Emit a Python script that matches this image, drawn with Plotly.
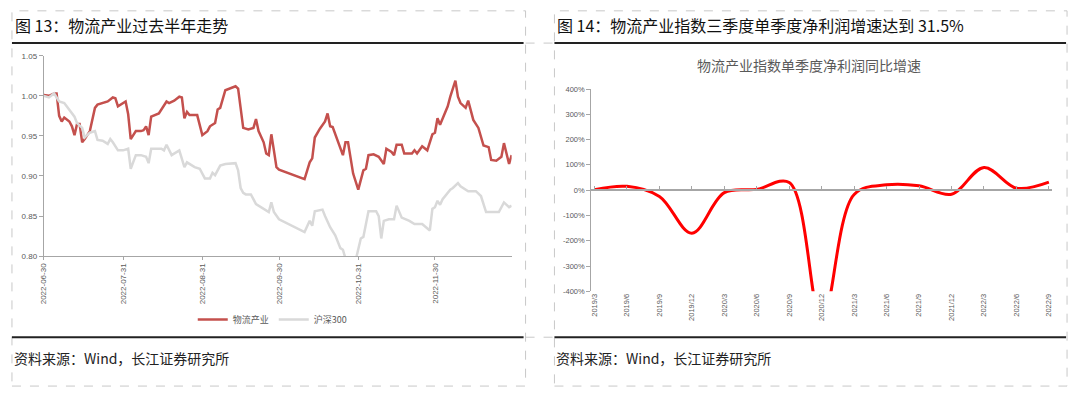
import plotly.graph_objects as go

W, H = 1080, 394

# ---------------- Left chart data (图13) ----------------
logistics_dates = [
    "2022-06-30", "2022-07-02", "2022-07-04", "2022-07-05", "2022-07-06", "2022-07-07", "2022-07-08",
    "2022-07-10", "2022-07-11", "2022-07-12", "2022-07-13", "2022-07-14", "2022-07-15", "2022-07-16",
    "2022-07-18", "2022-07-20", "2022-07-21", "2022-07-23", "2022-07-25", "2022-07-27", "2022-07-28",
    "2022-07-29", "2022-07-31", "2022-08-01", "2022-08-02", "2022-08-03", "2022-08-05", "2022-08-07",
    "2022-08-08", "2022-08-09", "2022-08-10", "2022-08-11", "2022-08-14", "2022-08-17", "2022-08-18",
    "2022-08-20", "2022-08-22", "2022-08-23", "2022-08-24", "2022-08-25", "2022-08-26", "2022-08-27",
    "2022-08-29", "2022-08-31", "2022-09-02", "2022-09-03", "2022-09-05", "2022-09-06", "2022-09-07",
    "2022-09-09", "2022-09-11", "2022-09-13", "2022-09-14", "2022-09-15", "2022-09-16", "2022-09-18",
    "2022-09-20", "2022-09-21", "2022-09-22", "2022-09-24", "2022-09-25", "2022-09-26", "2022-09-27",
    "2022-09-28", "2022-09-29", "2022-09-30", "2022-10-10", "2022-10-12", "2022-10-13", "2022-10-14",
    "2022-10-16", "2022-10-18", "2022-10-19", "2022-10-20", "2022-10-21", "2022-10-25", "2022-10-26",
    "2022-10-27", "2022-10-29", "2022-10-31", "2022-11-02", "2022-11-03", "2022-11-04", "2022-11-06",
    "2022-11-08", "2022-11-10", "2022-11-11", "2022-11-13", "2022-11-14", "2022-11-15", "2022-11-17",
    "2022-11-18", "2022-11-21", "2022-11-22", "2022-11-23", "2022-11-25", "2022-11-27", "2022-11-29",
    "2022-11-30", "2022-12-01", "2022-12-02", "2022-12-05", "2022-12-06", "2022-12-08", "2022-12-09",
    "2022-12-10", "2022-12-12", "2022-12-13", "2022-12-15", "2022-12-17", "2022-12-19", "2022-12-21",
    "2022-12-22", "2022-12-24", "2022-12-26", "2022-12-27", "2022-12-28", "2022-12-29", "2022-12-30",
]
logistics_values = [
    1.001, 1.000, 1.003, 1.003, 0.975, 0.968, 0.973,
    0.968, 0.962, 0.951, 0.965, 0.965, 0.942, 0.946,
    0.956, 0.985, 0.989, 0.991, 0.993, 0.998, 0.997,
    0.987, 0.991, 0.993, 0.977, 0.946, 0.956, 0.956,
    0.957, 0.962, 0.951, 0.974, 0.978, 0.993, 0.991,
    0.994, 0.999, 0.998, 0.972, 0.980, 0.976, 0.976,
    0.976, 0.951, 0.956, 0.962, 0.966, 0.983, 0.985,
    1.007, 1.010, 1.012, 1.009, 0.985, 0.960, 0.958,
    0.960, 0.971, 0.956, 0.942, 0.928, 0.926, 0.952,
    0.932, 0.911, 0.908, 0.896, 0.917, 0.922, 0.948,
    0.959, 0.968, 0.978, 0.962, 0.961, 0.926, 0.942,
    0.942, 0.903, 0.883, 0.907, 0.909, 0.926, 0.927,
    0.924, 0.915, 0.934, 0.930, 0.926, 0.939, 0.939,
    0.928, 0.928, 0.932, 0.928, 0.937, 0.932, 0.952,
    0.954, 0.972, 0.964, 0.987, 0.999, 1.019, 0.999,
    0.991, 0.985, 0.994, 0.970, 0.960, 0.938, 0.936,
    0.920, 0.919, 0.924, 0.941, 0.928, 0.915, 0.926,
]

hs300_dates = [
    "2022-06-30", "2022-07-02", "2022-07-04", "2022-07-06", "2022-07-08", "2022-07-10", "2022-07-12",
    "2022-07-13", "2022-07-15", "2022-07-16", "2022-07-18", "2022-07-20", "2022-07-21", "2022-07-23",
    "2022-07-25", "2022-07-26", "2022-07-27", "2022-07-29", "2022-07-31", "2022-08-02", "2022-08-03",
    "2022-08-05", "2022-08-07", "2022-08-09", "2022-08-10", "2022-08-11", "2022-08-15", "2022-08-16",
    "2022-08-17", "2022-08-19", "2022-08-22", "2022-08-24", "2022-08-25", "2022-08-28", "2022-08-30",
    "2022-09-01", "2022-09-03", "2022-09-04", "2022-09-05", "2022-09-07", "2022-09-09", "2022-09-13",
    "2022-09-14", "2022-09-15", "2022-09-16", "2022-09-17", "2022-09-19", "2022-09-21", "2022-09-24",
    "2022-09-26", "2022-09-27", "2022-09-28", "2022-09-30", "2022-10-10", "2022-10-12", "2022-10-13",
    "2022-10-14", "2022-10-17", "2022-10-18", "2022-10-20", "2022-10-22", "2022-10-24", "2022-10-25",
    "2022-10-26", "2022-10-30", "2022-11-01", "2022-11-02", "2022-11-03", "2022-11-04", "2022-11-07",
    "2022-11-08", "2022-11-09", "2022-11-10", "2022-11-12", "2022-11-14", "2022-11-15", "2022-11-17",
    "2022-11-20", "2022-11-22", "2022-11-25", "2022-11-28", "2022-11-29", "2022-11-30", "2022-12-01",
    "2022-12-02", "2022-12-03", "2022-12-06", "2022-12-07", "2022-12-09", "2022-12-10", "2022-12-13",
    "2022-12-16", "2022-12-18", "2022-12-20", "2022-12-21", "2022-12-25", "2022-12-27", "2022-12-29",
    "2022-12-30",
]
hs300_values = [
    1.000, 0.998, 1.003, 0.993, 0.991, 0.983, 0.974,
    0.966, 0.960, 0.948, 0.954, 0.956, 0.945, 0.944,
    0.940, 0.946, 0.942, 0.932, 0.932, 0.934, 0.909,
    0.926, 0.926, 0.924, 0.916, 0.934, 0.934, 0.932,
    0.939, 0.926, 0.932, 0.911, 0.917, 0.911, 0.909,
    0.897, 0.897, 0.904, 0.901, 0.913, 0.915, 0.916,
    0.907, 0.885, 0.879, 0.877, 0.877, 0.865, 0.859,
    0.855, 0.867, 0.855, 0.846, 0.830, 0.844, 0.838,
    0.856, 0.858, 0.850, 0.836, 0.826, 0.810, 0.808,
    0.797, 0.795, 0.822, 0.824, 0.842, 0.856, 0.856,
    0.850, 0.822, 0.844, 0.846, 0.846, 0.863, 0.848,
    0.844, 0.840, 0.840, 0.832, 0.859, 0.861, 0.869,
    0.864, 0.871, 0.883, 0.885, 0.891, 0.887, 0.881,
    0.881, 0.875, 0.855, 0.855, 0.855, 0.867, 0.861,
    0.863,
]

left_tick_dates = ["2022-06-30", "2022-07-31", "2022-08-31", "2022-09-30", "2022-10-31", "2022-11-30"]
left_y_ticks = [0.80, 0.85, 0.90, 0.95, 1.00, 1.05]

# ---------------- Right chart data (图14) ----------------
quarters = ["2019/3", "2019/6", "2019/9", "2019/12", "2020/3", "2020/6", "2020/9", "2020/12",
            "2021/3", "2021/6", "2021/9", "2021/12", "2022/3", "2022/6", "2022/9"]
profit_growth = [2, 15, -25, -170, -10, 3, 30, -520, -17, 21, 17, -16, 90, 8, 31.5]
right_y_ticks = [-400, -300, -200, -100, 0, 100, 200, 300, 400]
right_y_labels = [f"{v}%" for v in right_y_ticks]

# ---------------- Figure ----------------
FONT = "Liberation Sans, Arial, Noto Sans CJK SC, sans-serif"
CJK = "Noto Sans CJK SC, Liberation Sans, sans-serif"
AX = "#a6a6a6"
TXT = "#595959"

def px_x(x):
    return x / W

def px_y(y):
    return 1 - y / H

fig = go.Figure()

fig.add_trace(go.Scatter(x=logistics_dates, y=logistics_values, mode="lines", name="物流产业",
                         line=dict(color="#c4504d", width=2.5), xaxis="x", yaxis="y"))
fig.add_trace(go.Scatter(x=hs300_dates, y=hs300_values, mode="lines", name="沪深300",
                         line=dict(color="#d9d9d9", width=2.5), xaxis="x", yaxis="y"))
fig.add_trace(go.Scatter(x=quarters, y=profit_growth, mode="lines", name="净利润同比增速",
                         line=dict(color="#ff0000", width=3, shape="spline", smoothing=1),
                         xaxis="x2", yaxis="y2", showlegend=False))
# invisible trace so the overlay (zero-line) axis exists
fig.add_trace(go.Scatter(x=[], y=[], xaxis="x3", yaxis="y2", showlegend=False, hoverinfo="skip"))

left_dom_x = [px_x(40), px_x(510)]
left_dom_y = [px_y(258), px_y(53)]
right_dom_x = [px_x(590), px_x(1053)]
right_dom_y = [px_y(294), px_y(87)]

fig.update_layout(
    width=W, height=H,
    margin=dict(l=0, r=0, t=0, b=0),
    paper_bgcolor="white", plot_bgcolor="white",
    font=dict(family=FONT, color=TXT, size=8),
    xaxis=dict(domain=left_dom_x, anchor="y", type="date",
               range=["2022-06-30", "2022-12-30"],
               tickvals=left_tick_dates, ticktext=left_tick_dates, tickangle=-90,
               showline=True, linecolor=AX, linewidth=1.2, ticks="outside", ticklen=3,
               tickcolor=AX, showgrid=False, zeroline=False,
               tickfont=dict(size=8, color=TXT, family=FONT)),
    yaxis=dict(domain=left_dom_y, anchor="x", range=[0.80, 1.05],
               tickvals=left_y_ticks, ticktext=[f"{v:.2f}" for v in left_y_ticks],
               showline=True, linecolor=AX, linewidth=1.2, ticks="outside", ticklen=4,
               tickcolor=AX, showgrid=False, zeroline=False,
               tickfont=dict(size=8, color=TXT, family=FONT)),
    xaxis2=dict(domain=right_dom_x, anchor="y2", type="category", range=[-0.1, 14.1],
                tickangle=-90, showline=False, ticks="", showgrid=False, zeroline=False,
                tickfont=dict(size=7.5, color=TXT, family=FONT)),
    xaxis3=dict(overlaying="x2", anchor="free",
                position=(right_dom_y[0] + right_dom_y[1]) / 2,
                type="linear", range=[-0.1, 14.1], tickvals=list(range(len(quarters))),
                showticklabels=False, showline=True, linecolor=AX, linewidth=1.5,
                ticks="inside", ticklen=3, tickcolor=AX, showgrid=False, zeroline=False),
    yaxis2=dict(domain=right_dom_y, anchor="x2", range=[-400, 400],
                tickvals=right_y_ticks, ticktext=right_y_labels,
                showline=True, linecolor=AX, linewidth=1.2, ticks="outside", ticklen=4,
                tickcolor=AX, showgrid=False, zeroline=False,
                tickfont=dict(size=7.5, color=TXT, family=FONT)),
    legend=dict(orientation="h", x=px_x(270), xanchor="center", y=px_y(323), yanchor="middle",
                font=dict(size=9, color=TXT, family=CJK), itemwidth=30,
                bgcolor="rgba(0,0,0,0)", tracegroupgap=0),
)

shapes = []
dash_col = "#c8c8c8"
for (x0, x1) in [(8, 524), (553, 1068)]:
    shapes.append(dict(type="rect", xref="paper", yref="paper",
                       x0=px_x(x0), x1=px_x(x1), y0=px_y(391), y1=px_y(7),
                       line=dict(color=dash_col, width=1, dash="dash")))
for y in [40, 341]:
    shapes.append(dict(type="line", xref="paper", yref="paper",
                       x0=px_x(524), x1=px_x(553), y0=px_y(y), y1=px_y(y),
                       line=dict(color=dash_col, width=1, dash="dash")))
for (x0, x1) in [(8, 522), (553, 1067)]:
    for y in [40, 341]:
        shapes.append(dict(type="line", xref="paper", yref="paper",
                           x0=px_x(x0), x1=px_x(x1), y0=px_y(y), y1=px_y(y),
                           line=dict(color="#222222", width=2)))
fig.update_layout(shapes=shapes)

annotations = [
    dict(text="图 13：物流产业过去半年走势", x=px_x(9), y=px_y(21), xanchor="left", yanchor="middle",
         font=dict(size=16, color="#111111", family=CJK)),
    dict(text="图 14：物流产业指数三季度单季度净利润增速达到 31.5%", x=px_x(554), y=px_y(21),
         xanchor="left", yanchor="middle", font=dict(size=16, color="#111111", family=CJK)),
    dict(text="物流产业指数单季度净利润同比增速", x=px_x(809), y=px_y(62), xanchor="center",
         yanchor="middle", font=dict(size=14, color=TXT, family=CJK)),
    dict(text="资料来源：Wind，长江证券研究所", x=px_x(8), y=px_y(362), xanchor="left",
         yanchor="middle", font=dict(size=14, color="#222222", family=CJK)),
    dict(text="资料来源：Wind，长江证券研究所", x=px_x(553), y=px_y(362), xanchor="left",
         yanchor="middle", font=dict(size=14, color="#222222", family=CJK)),
]
for a in annotations:
    a.update(xref="paper", yref="paper", showarrow=False)
fig.update_layout(annotations=annotations)

fig.write_html("out.html", config={"displayModeBar": False},
               post_script="document.body.style.margin='0';document.body.style.padding='0';")
